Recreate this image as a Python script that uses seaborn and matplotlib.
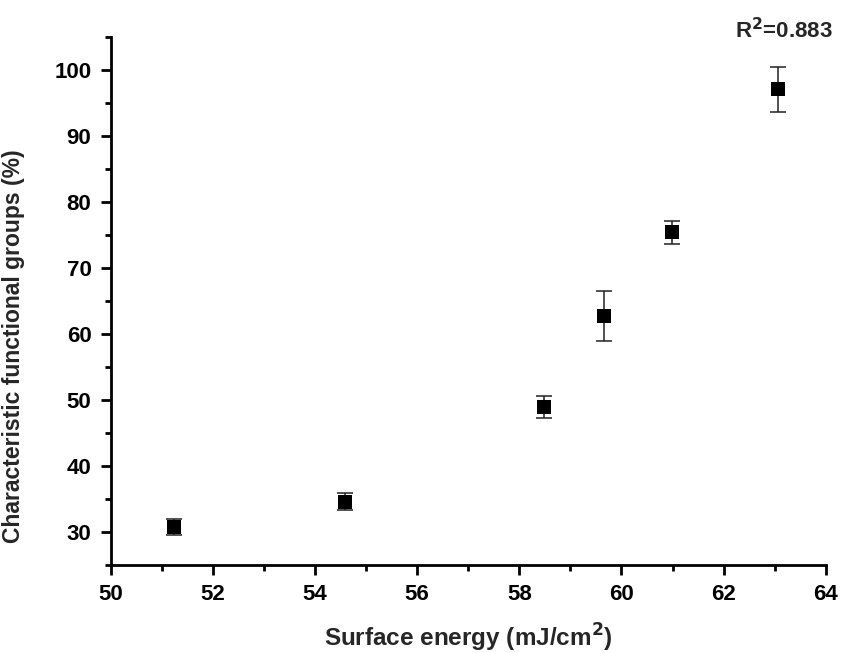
import matplotlib
matplotlib.use("Agg")
import matplotlib.pyplot as plt
from matplotlib.ticker import MultipleLocator
import seaborn as sns
import pandas as pd

# Surface energy vs. characteristic functional group content
surface_energy = [51.23, 54.58, 58.48, 59.66, 60.99, 63.06]
functional_groups = [30.7, 34.6, 48.9, 62.7, 75.4, 97.1]
error = [1.2, 1.3, 1.7, 3.8, 1.7, 3.4]

x_ticks = [50, 52, 54, 56, 58, 60, 62, 64]
y_ticks = [30, 40, 50, 60, 70, 80, 90, 100]

df = pd.DataFrame({"x": surface_energy, "y": functional_groups, "err": error})

sns.set_style("ticks")
plt.rcParams["font.family"] = ["Liberation Sans", "DejaVu Sans"]

fig = plt.figure(figsize=(8.46, 6.53), dpi=100)
ax = fig.add_axes([0.131, 0.135, 0.845, 0.808])

ax.errorbar(df["x"], df["y"], yerr=df["err"], fmt="none", ecolor="#222222",
            elinewidth=1.1, capsize=5.5, capthick=1.1, zorder=2)
sns.scatterplot(data=df, x="x", y="y", marker="s", s=110, color="black",
                edgecolor="black", linewidth=0, ax=ax, zorder=3)

ax.set_xlim(50, 64)
ax.set_ylim(25, 105)
ax.set_xticks(x_ticks)
ax.set_yticks(y_ticks)
ax.xaxis.set_minor_locator(MultipleLocator(1))
ax.yaxis.set_minor_locator(MultipleLocator(5))

for side in ("top", "right"):
    ax.spines[side].set_visible(False)
for side in ("left", "bottom"):
    ax.spines[side].set_linewidth(2)
    ax.spines[side].set_color("black")

ax.tick_params(which="major", direction="out", length=7, width=2, colors="black",
               labelsize=16, pad=7)
ax.tick_params(which="minor", direction="out", length=4, width=2, colors="black")
for lbl in ax.get_xticklabels() + ax.get_yticklabels():
    lbl.set_fontweight("bold")

ax.set_xlabel("Surface energy (mJ/cm$^\\mathbf{2}$)", fontsize=17.5, fontweight="bold", labelpad=12)
ax.set_ylabel("Characteristic functional groups (%)", fontsize=16.5, fontweight="bold")
ax.yaxis.set_label_coords(-0.12, 0.415)

fig.text(833 / 846, 1 - 43 / 653, "R$^\\mathbf{2}$=0.883", fontsize=16, fontweight="bold",
         ha="right", va="bottom")

fig.savefig("out.png", dpi=100)
